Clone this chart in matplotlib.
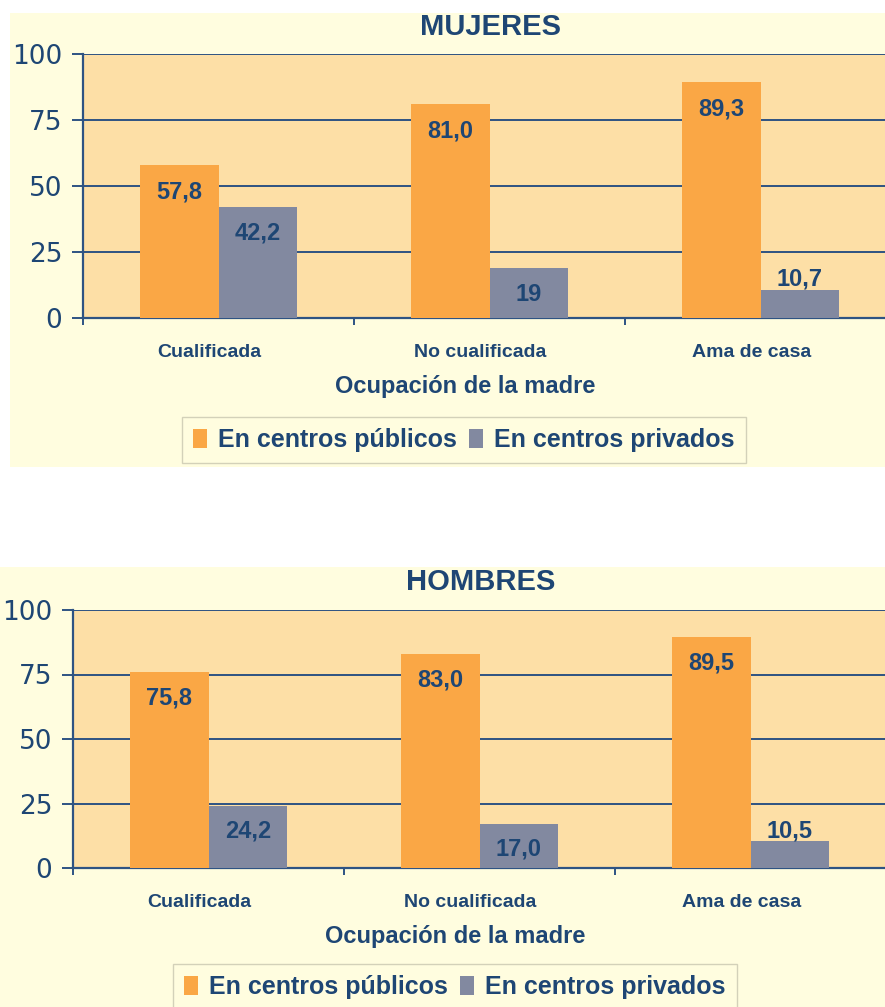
import matplotlib
matplotlib.use("Agg")
import matplotlib.pyplot as plt
from matplotlib.patches import Rectangle, Patch
from matplotlib.transforms import ScaledTranslation

# ---- data ----
categories = ["Cualificada", "No cualificada", "Ama de casa"]
mujeres_publicos = [57.8, 81.0, 89.3]
mujeres_privados = [42.2, 19.0, 10.7]
mujeres_priv_labels = ["42,2", "19", "10,7"]
mujeres_pub_labels = ["57,8", "81,0", "89,3"]
hombres_publicos = [75.8, 83.0, 89.5]
hombres_privados = [24.2, 17.0, 10.5]
hombres_pub_labels = ["75,8", "83,0", "89,5"]
hombres_priv_labels = ["24,2", "17,0", "10,5"]
yticks = [0, 25, 50, 75, 100]
legend_labels = ["En centros públicos", "En centros privados"]
xlabel_text = "Ocupación de la madre"

# ---- style ----
W, H = 885, 1007
ORANGE = "#FAA745"
GRAY = "#8289A0"
PLOT_BG = "#FDDFA6"
OUTER_BG = "#FFFDDF"
TEXT = "#1E4674"
GRID = "#2E5383"
BOLD = ["Liberation Sans", "DejaVu Sans"]

fig = plt.figure(figsize=(W / 100, H / 100), dpi=100)
fig.patch.set_facecolor("white")


def fx(px):
    return px / W


def fy(py):
    return 1 - py / H


# outer panel backgrounds
fig.patches.append(Rectangle((fx(10), fy(467)), fx(875), 454 / H, transform=fig.transFigure,
                             facecolor=OUTER_BG, edgecolor="none", zorder=-10))
fig.patches.append(Rectangle((fx(0), fy(1007)), fx(885), 440 / H, transform=fig.transFigure,
                             facecolor=OUTER_BG, edgecolor="none", zorder=-10))


def panel(ax_rect, pub, priv, pub_lbl, priv_lbl, title, title_xy, xlab_xy, leg_xy):
    ax = fig.add_axes(ax_rect)
    ax.set_facecolor(PLOT_BG)
    x = list(range(len(categories)))
    bw = 0.29
    ax.bar([i - bw / 2 for i in x], pub, width=bw, color=ORANGE, zorder=3)
    ax.bar([i + bw / 2 for i in x], priv, width=bw, color=GRAY, zorder=3)
    ax.set_xlim(-0.5, 2.5)
    ax.set_ylim(0, 100)
    ax.set_yticks(yticks)
    ax.set_yticklabels([str(t) for t in yticks], fontsize=19, color=TEXT,
                       family=["DejaVu Sans"])
    ax.yaxis.grid(True, color=GRID, linewidth=1.4, zorder=1)
    ax.set_axisbelow(True)
    ax.tick_params(axis="y", length=8, width=1.4, color=GRID, pad=7)
    ax.set_xticks(x)
    ax.set_xticklabels(categories, fontsize=14, fontweight="bold", color=TEXT, family=BOLD)
    ax.tick_params(axis="x", which="major", length=0, pad=19)
    for lbl in ax.get_xticklabels():
        lbl.set_transform(lbl.get_transform() + ScaledTranslation(-0.09, 0, fig.dpi_scale_trans))
    ax.set_xticks([-0.5, 0.5, 1.5], minor=True)
    ax.tick_params(axis="x", which="minor", length=5, width=1.4, color=GRID, direction="out")
    for s in ["top", "right"]:
        ax.spines[s].set_visible(False)
    for s in ["left", "bottom"]:
        ax.spines[s].set_color(GRID)
        ax.spines[s].set_linewidth(1.6)
    # value labels
    for i in x:
        for val, lbls, off in ((pub[i], pub_lbl, -bw / 2), (priv[i], priv_lbl, bw / 2)):
            if val >= 15:
                yv = max(val - 10, val / 2 - 1)
            else:
                yv = val + 4
            ax.text(i + off, yv, lbls[i], ha="center", va="center", fontsize=17,
                    fontweight="bold", color=TEXT, family=BOLD, zorder=5)
    fig.text(fx(title_xy[0]), fy(title_xy[1]), title, ha="center", va="center",
             fontsize=21, fontweight="bold", color=TEXT, family=BOLD)
    fig.text(fx(xlab_xy[0]), fy(xlab_xy[1]), xlabel_text, ha="center", va="center",
             fontsize=17, fontweight="bold", color=TEXT, family=BOLD)
    handles = [Patch(facecolor=ORANGE, edgecolor="none"), Patch(facecolor=GRAY, edgecolor="none")]
    leg = fig.legend(handles, legend_labels, loc="center", ncol=2,
                     bbox_to_anchor=(fx(leg_xy[0]), fy(leg_xy[1])),
                     prop={"family": BOLD, "weight": "bold", "size": 18},
                     frameon=True, fancybox=False, handlelength=0.55, handleheight=0.8,
                     handletextpad=0.45, columnspacing=0.5, borderpad=0.45)
    for t in leg.get_texts():
        t.set_color(TEXT)
    fr = leg.get_frame()
    fr.set_facecolor(OUTER_BG)
    fr.set_edgecolor("#C9C7B0")
    fr.set_linewidth(1.0)
    return ax


panel([fx(83), fy(318), 813 / W, 264 / H], mujeres_publicos, mujeres_privados,
      mujeres_pub_labels, mujeres_priv_labels, "MUJERES", (491, 27), (465, 387), (464, 440))
panel([fx(73), fy(868), 813 / W, 258 / H], hombres_publicos, hombres_privados,
      hombres_pub_labels, hombres_priv_labels, "HOMBRES", (481, 582), (455, 936), (455, 987))

fig.savefig("out.png", dpi=100, facecolor=fig.get_facecolor())
